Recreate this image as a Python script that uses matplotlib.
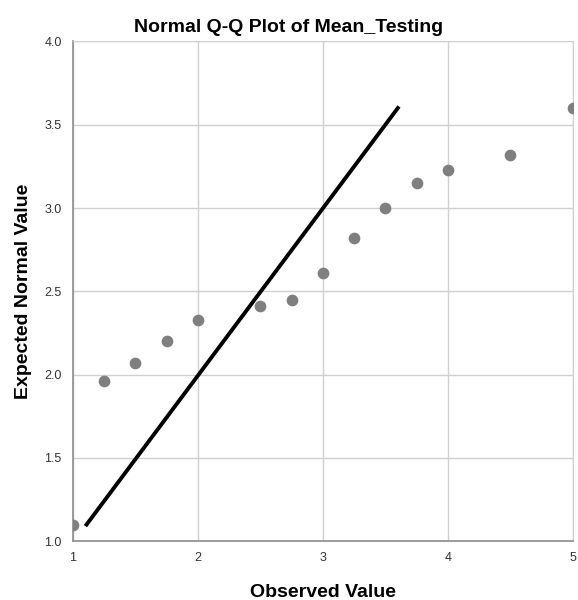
import matplotlib.pyplot as plt

observed = [1.0, 1.25, 1.5, 1.75, 2.0, 2.5, 2.75, 3.0, 3.25, 3.5, 3.75, 4.0, 4.5, 5.0]
expected = [1.10, 1.96, 2.07, 2.20, 2.33, 2.41, 2.45, 2.61, 2.82, 3.00, 3.15, 3.23, 3.32, 3.60]
line_x = [1.11, 3.6]
line_y = [1.10, 3.6]

plt.rcParams['font.family'] = ['Liberation Sans', 'DejaVu Sans']

fig = plt.figure(figsize=(5.78, 6.0), dpi=100)
ax = fig.add_axes([0.126, 0.098, 0.865, 0.833])

ax.grid(True, color='#d0d0d0', linewidth=1)
ax.set_axisbelow(True)
ax.scatter(observed, expected, s=55, color='#7f7f7f', zorder=3)
ax.plot(line_x, line_y, color='black', linewidth=2.8, zorder=4)

ax.set_xlim(1, 5)
ax.set_ylim(1, 4)
ax.set_xticks([1, 2, 3, 4, 5])
ax.set_yticks([1.0, 1.5, 2.0, 2.5, 3.0, 3.5, 4.0])
ax.set_yticklabels(['1.0', '1.5', '2.0', '2.5', '3.0', '3.5', '4.0'])
ax.tick_params(length=0, labelsize=9, colors='#333333', pad=8)

for side in ['top', 'right']:
    ax.spines[side].set_color('#d0d0d0')
for side in ['left', 'bottom']:
    ax.spines[side].set_color('#8c8c8c')
    ax.spines[side].set_linewidth(1.2)

# title is centred on the whole figure, not on the axes
fig.text(0.5, 0.947, 'Normal Q-Q Plot of Mean_Testing', fontsize=14,
         fontweight='bold', ha='center', va='baseline')
ax.set_xlabel('Observed Value', fontsize=14, fontweight='bold', labelpad=14.5)
ax.set_ylabel('Expected Normal Value', fontsize=14, fontweight='bold', labelpad=9)

fig.savefig('out.png', dpi=100)
